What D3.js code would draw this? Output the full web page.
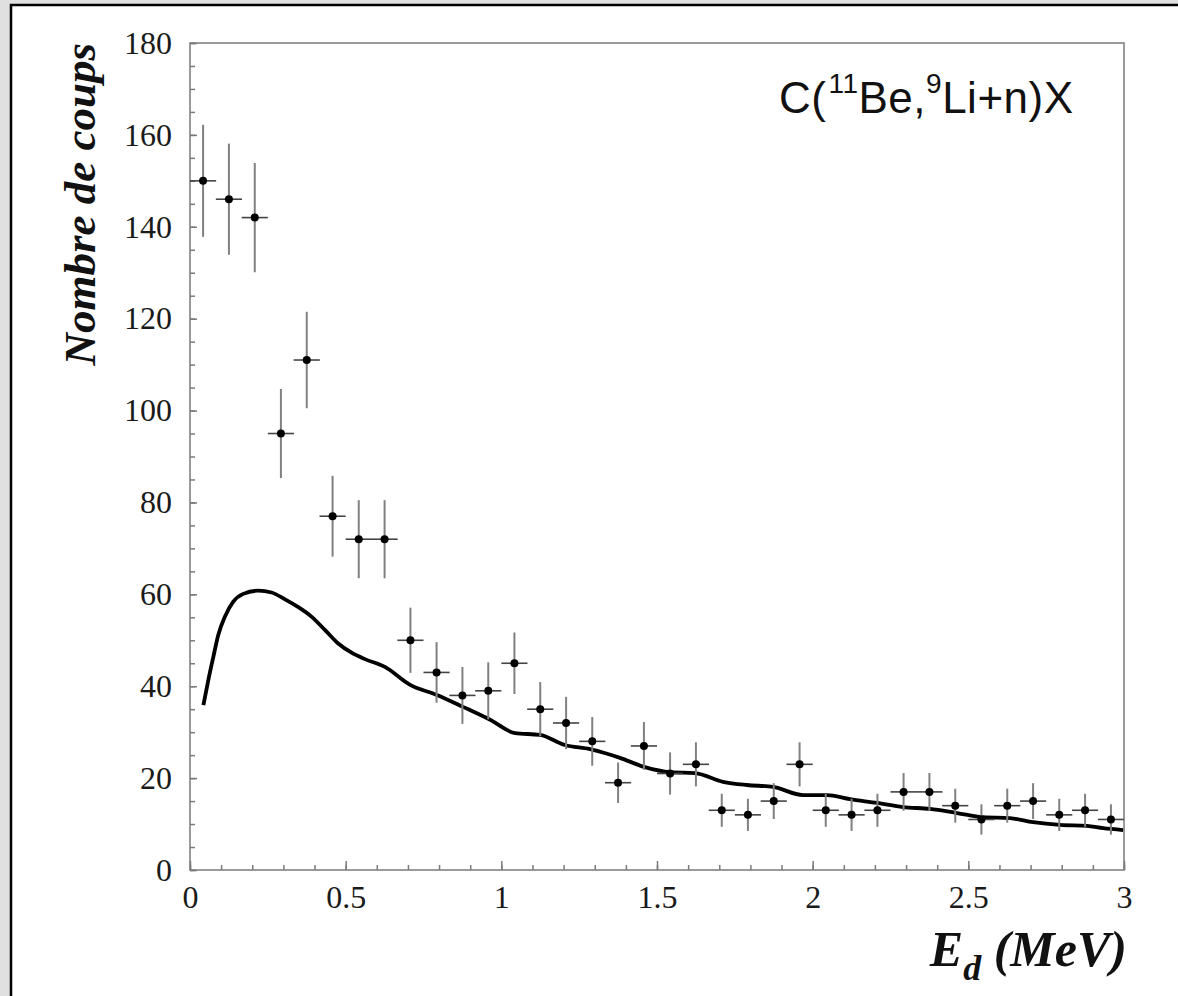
<!DOCTYPE html>
<html>
<head>
<meta charset="utf-8">
<script src="https://cdn.jsdelivr.net/npm/d3@7"></script>
<style>
  body { margin: 0; background: #e0e0e0; }
  svg { display: block; }
</style>
</head>
<body>
<div id="chart"></div>
<script>
/* E_d spectrum C(11Be,9Li+n)X - data points with errors + simulation curve */

// bin centres (MeV), counts and errors
const binCenters = [0.042, 0.125, 0.208, 0.292, 0.375, 0.458, 0.542, 0.625, 0.708, 0.792,
    0.875, 0.958, 1.042, 1.125, 1.208, 1.292, 1.375, 1.458, 1.542, 1.625,
    1.708, 1.792, 1.875, 1.958, 2.042, 2.125, 2.208, 2.292, 2.375, 2.458,
    2.542, 2.625, 2.708, 2.792, 2.875, 2.958];
const counts = [150, 146, 142, 95, 111, 77, 72, 72, 50, 43,
    38, 39, 45, 35, 32, 28, 19, 27, 21, 23,
    13, 12, 15, 23, 13, 12, 13, 17, 17, 14,
    11, 14, 15, 12, 13, 11];
const countErrors = [12.2, 12.1, 11.9, 9.7, 10.5, 8.8, 8.5, 8.5, 7.1, 6.6,
    6.2, 6.2, 6.7, 5.9, 5.7, 5.3, 4.4, 5.2, 4.6, 4.8,
    3.6, 3.5, 3.9, 4.8, 3.6, 3.5, 3.6, 4.1, 4.1, 3.7,
    3.3, 3.7, 3.9, 3.5, 3.6, 3.3];
const binHalfWidth = 0.042;

// simulated curve
const curveE = [0.043, 0.059, 0.075, 0.091, 0.112, 0.139, 0.171, 0.219, 0.262, 0.305,
    0.348, 0.391, 0.434, 0.476, 0.519, 0.562, 0.626, 0.707, 0.793, 0.877,
    0.964, 1.044, 1.124, 1.204, 1.285, 1.340, 1.381, 1.461, 1.542, 1.622,
    1.712, 1.789, 1.873, 1.969, 2.046, 2.120, 2.207, 2.290, 2.377, 2.464,
    2.547, 2.634, 2.708, 2.794, 2.881, 2.933, 2.997];
const curveN = [35.9, 41.4, 46.4, 51.2, 55.1, 58.4, 60.1, 60.8, 60.4, 58.9,
    57.2, 55.1, 52.2, 49.3, 47.3, 45.9, 44.2, 40.3, 38.1, 35.5,
    32.7, 29.8, 29.4, 27.2, 26.3, 25.3, 24.4, 22.4, 21.3, 21.1,
    19.2, 18.5, 18.1, 16.3, 16.3, 15.4, 14.6, 13.7, 13.3, 12.4,
    11.5, 11.3, 10.4, 9.8, 9.6, 9.1, 8.7];

const xMajor = [0, 0.5, 1, 1.5, 2, 2.5, 3];
const yMajor = [0, 20, 40, 60, 80, 100, 120, 140, 160, 180];

const width = 1178,
    height = 996,
    margin = ({ top: 43, right: 54, bottom: 126, left: 190 });

const data = binCenters.map((e, i) => ({ e: e, n: counts[i], err: countErrors[i] }));
const curve = curveE.map((e, i) => ({ e: e, n: curveN[i] }));

let svg = d3.select("#chart")
    .append("svg")
    .attr("width", width)
    .attr("height", height);

// canvas frame
svg.append("rect")
    .attr("x", 11).attr("y", 5)
    .attr("width", width + 20).attr("height", height + 20)
    .attr("fill", "white")
    .attr("stroke", "black")
    .attr("stroke-width", 2.5);

let x = d3.scaleLinear()
    .domain([0, 3])
    .range([margin.left, width - margin.right]);

let y = d3.scaleLinear()
    .domain([0, 180])
    .range([height - margin.bottom, margin.top]);

const axisColor = "#7a7a7a";
const tickFont = g => g.selectAll("text")
    .attr("fill", "#1a1a1a")
    .style("font-family", "'Liberation Serif', serif")
    .style("font-size", "32px");

// plot box
svg.append("rect")
    .attr("x", x(0)).attr("y", y(180))
    .attr("width", x(3) - x(0)).attr("height", y(0) - y(180))
    .attr("fill", "none")
    .attr("stroke", axisColor)
    .attr("stroke-width", 1.5);

// minor ticks
svg.append("g")
    .attr("transform", `translate(0,${y(0)})`)
    .call(d3.axisBottom(x).ticks(30).tickSize(-5).tickFormat(""))
    .call(g => g.select(".domain").remove())
    .call(g => g.selectAll("line").attr("stroke", axisColor).attr("stroke-width", 1.5));

svg.append("g")
    .attr("transform", `translate(${x(0)},0)`)
    .call(d3.axisLeft(y).ticks(36).tickSize(-5).tickFormat(""))
    .call(g => g.select(".domain").remove())
    .call(g => g.selectAll("line").attr("stroke", axisColor).attr("stroke-width", 1.5));

// major ticks + labels
svg.append("g")
    .attr("transform", `translate(0,${y(0)})`)
    .call(d3.axisBottom(x).tickValues(xMajor).tickSize(-9).tickPadding(15).tickFormat(d3.format("")))
    .call(g => g.select(".domain").remove())
    .call(g => g.selectAll("line").attr("stroke", axisColor).attr("stroke-width", 1.5))
    .call(tickFont);

svg.append("g")
    .attr("transform", `translate(${x(0)},0)`)
    .call(d3.axisLeft(y).tickValues(yMajor).tickSize(-7).tickPadding(18))
    .call(g => g.select(".domain").remove())
    .call(g => g.selectAll("line").attr("stroke", axisColor).attr("stroke-width", 1.5))
    .call(tickFont);

// curve
svg.append("path")
    .datum(curve)
    .attr("fill", "none")
    .attr("stroke", "black")
    .attr("stroke-width", 3.8)
    .attr("stroke-linejoin", "round")
    .attr("d", d3.line().x(d => x(d.e)).y(d => y(d.n)).curve(d3.curveMonotoneX));

// data points with error bars
let pt = svg.selectAll(".pt")
    .data(data)
    .join("g")
    .attr("class", "pt");

pt.append("line")
    .attr("x1", d => x(d.e)).attr("x2", d => x(d.e))
    .attr("y1", d => y(d.n - d.err)).attr("y2", d => y(d.n + d.err))
    .attr("stroke", "#808080")
    .attr("stroke-width", 2);

pt.append("line")
    .attr("x1", d => x(d.e - binHalfWidth)).attr("x2", d => x(d.e + binHalfWidth))
    .attr("y1", d => y(d.n)).attr("y2", d => y(d.n))
    .attr("stroke", "#444")
    .attr("stroke-width", 1.6);

pt.append("circle")
    .attr("cx", d => x(d.e))
    .attr("cy", d => y(d.n))
    .attr("r", 4)
    .attr("fill", "black");

// reaction label
let title = svg.append("text")
    .attr("x", 779)
    .attr("y", 113)
    .style("font-family", "'Liberation Sans', Arial, sans-serif")
    .style("font-size", "44px")
    .style("letter-spacing", "0.5px")
    .attr("fill", "#111");
title.append("tspan").text("C(");
title.append("tspan").attr("dx", 2).attr("dy", -20).style("font-size", "28px").text("11");
title.append("tspan").attr("dy", 20).text("Be,");
title.append("tspan").attr("dy", -20).style("font-size", "28px").text("9");
title.append("tspan").attr("dy", 20).text("Li+n)X");

// axis titles
let xl = svg.append("text")
    .attr("text-anchor", "end")
    .attr("x", x(3) + 3)
    .attr("y", 966)
    .style("font-family", "'Liberation Serif', serif")
    .style("font-style", "italic")
    .style("font-weight", "bold")
    .style("font-size", "50px")
    .attr("fill", "#111");
xl.append("tspan").text("E");
xl.append("tspan").attr("dy", 14).style("font-size", "36px").text("d");
xl.append("tspan").attr("dy", -14).text(" (MeV)");

svg.append("text")
    .attr("text-anchor", "end")
    .attr("transform", `translate(95,${margin.top}) rotate(-90)`)
    .style("font-family", "'Liberation Serif', serif")
    .style("font-style", "italic")
    .style("font-weight", "bold")
    .style("font-size", "45px")
    .attr("fill", "#111")
    .text("Nombre de coups");
</script>
</body>
</html>
